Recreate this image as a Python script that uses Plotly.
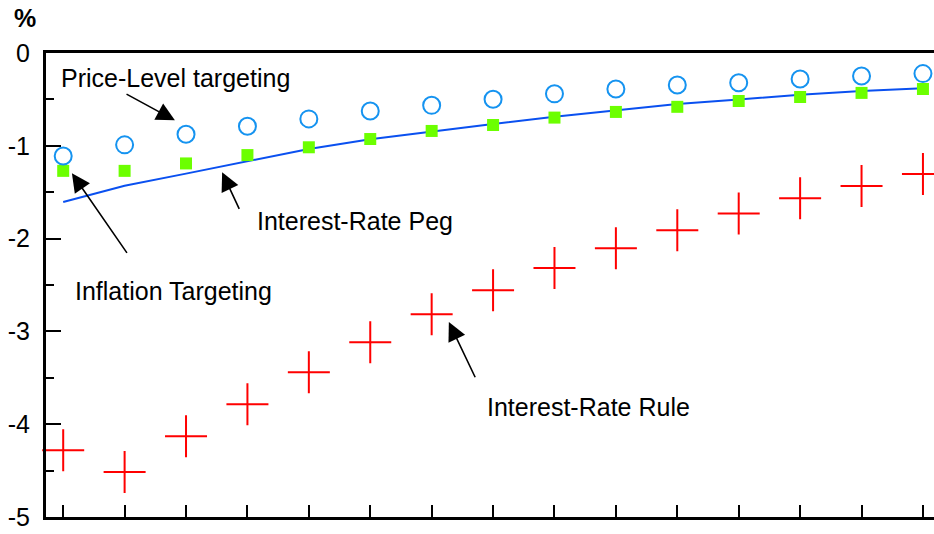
import plotly.graph_objects as go

# ---- data ----
periods = list(range(15))
price_level = [-1.11, -0.99, -0.876, -0.79, -0.71, -0.625, -0.564, -0.499, -0.44, -0.388,
               -0.345, -0.32, -0.28, -0.248, -0.222]
inflation_targeting = [-1.27, -1.27, -1.19, -1.10, -1.016, -0.927, -0.84, -0.776, -0.696, -0.635,
                       -0.58, -0.517, -0.474, -0.43, -0.388]
interest_rate_peg = [-1.605, -1.43, -1.30, -1.167, -1.034, -0.93, -0.844, -0.765, -0.686, -0.617,
                     -0.55, -0.50, -0.45, -0.41, -0.38]
interest_rate_rule = [-4.28, -4.515, -4.13, -3.785, -3.44, -3.117, -2.816, -2.557, -2.316, -2.105,
                      -1.911, -1.73, -1.566, -1.433, -1.304]
y_ticks = [0, -1, -2, -3, -4, -5]

FONT = "Arial, Liberation Sans, sans-serif"

fig = go.Figure()
fig.add_trace(go.Scatter(x=periods, y=interest_rate_peg, mode="lines",
                         line=dict(color="#0A50F0", width=2), showlegend=False,
                         cliponaxis=False))
fig.add_trace(go.Scatter(x=periods, y=inflation_targeting, mode="markers",
                         marker=dict(symbol="square", size=12, color="#6CFF00",
                                     line=dict(width=0)), showlegend=False, cliponaxis=False))
fig.add_trace(go.Scatter(x=periods, y=price_level, mode="markers",
                         marker=dict(symbol="circle-open", size=17, color="#1593F0",
                                     line=dict(width=2, color="#1593F0")),
                         showlegend=False, cliponaxis=False))
fig.add_trace(go.Scatter(x=periods, y=interest_rate_rule, mode="markers",
                         marker=dict(symbol="cross-thin", size=30, color="#FF0000",
                                     line=dict(width=2, color="#FF0000")),
                         showlegend=False, cliponaxis=False))

# text labels
labels = [
    ("Price-Level targeting", 1.835, -0.27),
    ("Interest-Rate Peg", 4.756, -1.81),
    ("Inflation Targeting", 1.803, -2.56),
    ("Interest-Rate Rule", 8.554, -3.81),
]
for txt, lx, ly in labels:
    fig.add_annotation(x=lx, y=ly, xref="x", yref="y", text=txt, showarrow=False,
                       font=dict(family=FONT, size=25, color="#000000"),
                       xanchor="center", yanchor="middle")

# arrows (head x,y ; tail ax,ay)
arrows = [
    (1.819, -0.726, 1.007, -0.434),
    (2.588, -1.286, 2.878, -1.695),
    (0.142, -1.296, 1.055, -2.17),
    (6.28, -2.90, 6.72, -3.51),
]
for hx, hy, tx, ty in arrows:
    fig.add_annotation(x=hx, y=hy, ax=tx, ay=ty, xref="x", yref="y", axref="x", ayref="y",
                       text="", showarrow=True, arrowhead=2, arrowsize=2.3, arrowwidth=1.6,
                       arrowcolor="#000000", standoff=0, startstandoff=0)

fig.add_annotation(x=(25 - 46) / 888, y=(517 - 18) / 464, xref="paper", yref="paper",
                   text="<b>%</b>", showarrow=False, xanchor="center", yanchor="middle",
                   font=dict(family=FONT, size=25, color="#000000"))

fig.update_layout(
    width=934, height=534,
    margin=dict(l=46, r=0, t=53, b=17, pad=0, autoexpand=False),
    paper_bgcolor="white", plot_bgcolor="white",
    showlegend=False,
    font=dict(family=FONT, size=25, color="#000000"),
)
fig.update_xaxes(range=[-0.28, 14.18], showgrid=False, zeroline=False, automargin=False,
                 showline=True, linecolor="#000000", linewidth=3, mirror=True,
                 ticks="inside", ticklen=12, tickwidth=2, tickcolor="#000000",
                 tickvals=periods, showticklabels=False)
fig.update_yaxes(range=[-5, 0], showgrid=False, zeroline=False, automargin=False,
                 showline=True, linecolor="#000000", linewidth=3,
                 ticks="inside", ticklen=15, tickwidth=2, tickcolor="#000000",
                 tickvals=y_ticks, ticktext=[str(v) for v in y_ticks],
                 ticklabelstandoff=8,
                 tickfont=dict(family=FONT, size=25, color="#000000"),
                 minor=dict(ticks="inside", ticklen=8, tickwidth=2, tickcolor="#000000",
                            dtick=0.5, showgrid=False))

fig.write_html("out.html", config={"displayModeBar": False},
               post_script="document.body.style.margin='0px';document.body.style.overflow='hidden';")
